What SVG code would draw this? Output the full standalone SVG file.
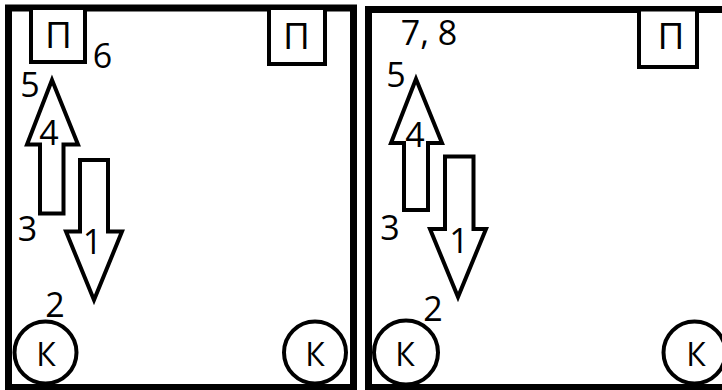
<svg xmlns="http://www.w3.org/2000/svg" width="722" height="390" viewBox="0 0 722 390">
<style>
.frame{fill:none;stroke:#000;stroke-width:7}
.box{fill:#fff;stroke:#000;stroke-width:4}
.arr{fill:#fff;stroke:#000;stroke-width:4;stroke-linejoin:miter}
.c{fill:#fff;stroke:#000;stroke-width:4}
text{font-family:"Open Sans","Liberation Sans",sans-serif;fill:#000;text-anchor:middle}
.n{font-size:34px}
.p{font-size:37px}
.k{font-size:32px}
</style>
<rect width="722" height="390" fill="#fff"/>
<g id="panel-left">
<rect class="frame" x="8.5" y="8" width="345" height="379.5"/>
</g>
<g id="panel-right">
<rect class="frame" x="368.5" y="9.5" width="400" height="378"/>
</g>
<g id="arrows">
<polygon class="arr" points="52,80 78,144.5 63.5,144.5 63.5,213.5 40,213.5 40,144.5 27,144.5"/>
<polygon class="arr" points="80,160 108,160 108,231.5 122,231.5 94,300 66,231.5 80,231.5"/>
<polygon class="arr" points="416,79 442,143 428,143 428,210 404,210 404,143 391,143"/>
<polygon class="arr" points="445,156.5 473.5,156.5 473.5,229 486,229 458,297 430,229 445,229"/>
</g>
<g id="p1"><rect class="box" x="31" y="8" width="54" height="54"/><text class="p" x="58.5" y="48">П</text></g>
<g id="p2"><rect class="box" x="269" y="8" width="56" height="56"/><text class="p" x="296.5" y="49">П</text></g>
<g id="p3"><rect class="box" x="639" y="9.5" width="58" height="57.5"/><text class="p" x="671" y="49">П</text></g>
<g id="k1"><circle class="c" cx="45.5" cy="352.5" r="31"/><text class="k" x="46" y="366">К</text></g>
<g id="k2"><circle class="c" cx="315" cy="352.5" r="31"/><text class="k" x="315" y="366">К</text></g>
<g id="k3"><circle class="c" cx="406" cy="352.5" r="32"/><text class="k" x="405" y="366">К</text></g>
<g id="k4"><circle class="c" cx="694.5" cy="352.5" r="31"/><text class="k" x="696" y="366">К</text></g>
<g id="labels">
<text class="n" x="102.5" y="68">6</text>
<text class="n" x="30" y="97">5</text>
<text class="n" x="49" y="145">4</text>
<text class="n" x="27.5" y="241">3</text>
<text class="n" x="92.5" y="254">1</text>
<text class="n" x="55" y="317">2</text>
<text class="n" x="429" y="45">7, 8</text>
<text class="n" x="396" y="87">5</text>
<text class="n" x="415" y="147">4</text>
<text class="n" x="390" y="240">3</text>
<text class="n" x="459" y="253">1</text>
<text class="n" x="433" y="321">2</text>
</g>
</svg>
